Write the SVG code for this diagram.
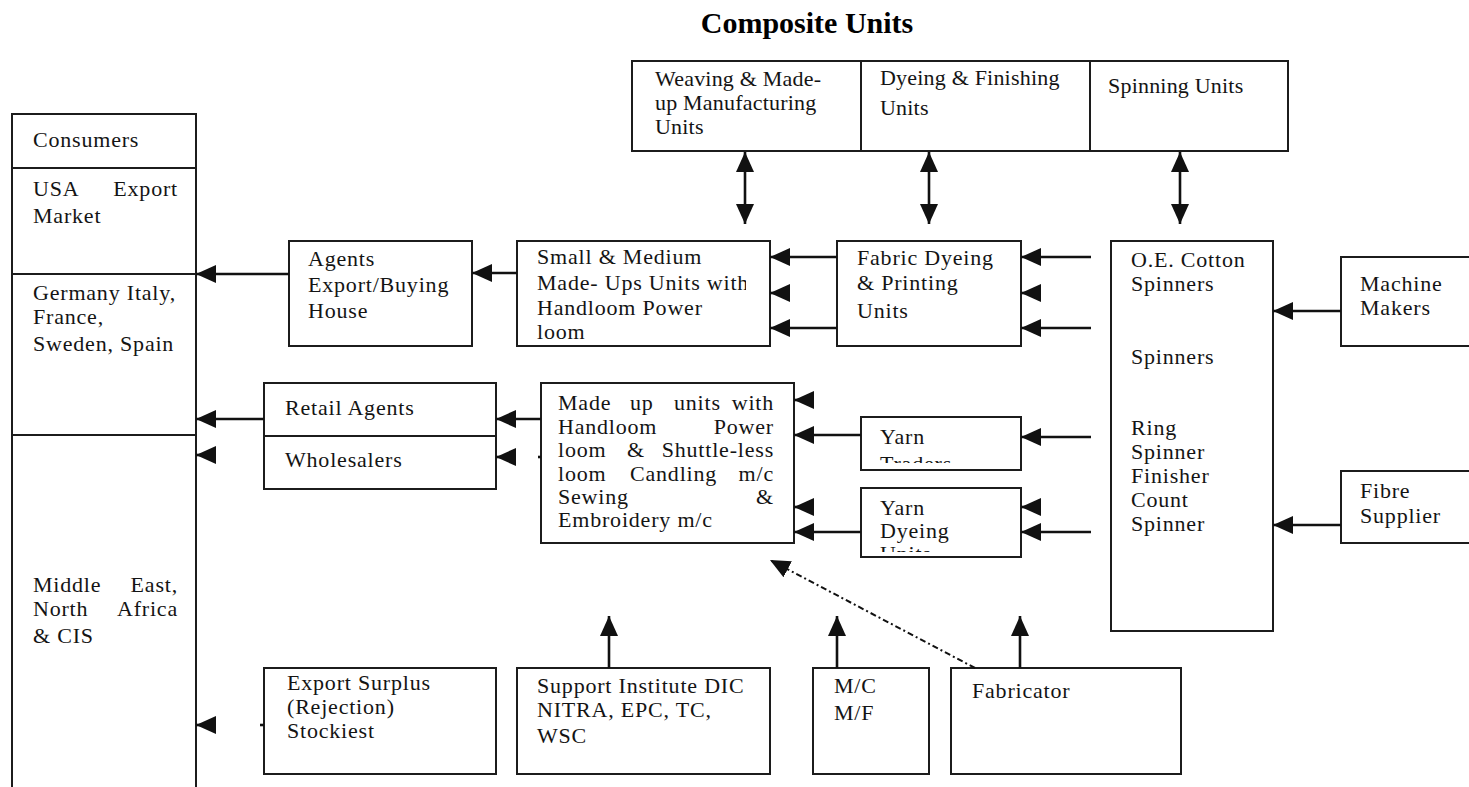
<svg xmlns="http://www.w3.org/2000/svg" width="1469" height="787" viewBox="0 0 1469 787">
<style>
.box{fill:#fff;stroke:#1c1c1c;stroke-width:2}
.edge{fill:none;stroke:#1c1c1c;stroke-width:2}
.t{font-family:'Liberation Serif','Times New Roman',serif;font-size:22px;fill:#141414;letter-spacing:0.8px}
.tt{letter-spacing:0.2px}
.title{font-family:'Liberation Serif','Times New Roman',serif;font-size:30px;font-weight:bold;fill:#000}
.c{stroke:#111;stroke-width:2.6;fill:none}
.hd{marker-end:url(#ah)}
.dbl{marker-start:url(#ah);marker-end:url(#ah)}
.dot{stroke:#111;stroke-width:2;fill:none;stroke-dasharray:6 3 2 3;marker-end:url(#ah)}
</style>
<defs>
  <marker id="ah" viewBox="0 0 20 18" refX="20" refY="9" markerWidth="20" markerHeight="18" markerUnits="userSpaceOnUse" orient="auto-start-reverse">
    <path d="M0,0 L20,9 L0,18 z" fill="#111"/>
  </marker>
  <clipPath id="clipSM"><rect x="517" y="241" width="229" height="105"/></clipPath>
  <clipPath id="clipYT"><rect x="861" y="417" width="160" height="46"/></clipPath>
  <clipPath id="clipYD"><rect x="861" y="488" width="160" height="64"/></clipPath>
</defs>
<rect width="1469" height="787" fill="#fff"/>

<text class="title" x="807" y="33" text-anchor="middle">Composite Units</text>

<!-- composite units: three cells in one band -->
<g id="composite-units">
  <rect class="box" x="632" y="61" width="656" height="90"/>
  <line class="edge" x1="861" y1="61" x2="861" y2="151"/>
  <line class="edge" x1="1090" y1="61" x2="1090" y2="151"/>
  <g id="weaving-units">
    <text class="t tt" x="655" y="86">Weaving &amp; Made-</text>
    <text class="t tt" x="655" y="110">up Manufacturing</text>
    <text class="t tt" x="655" y="134">Units</text>
  </g>
  <g id="dyeing-finishing-units">
    <text class="t tt" x="880" y="85">Dyeing &amp; Finishing</text>
    <text class="t tt" x="880" y="115">Units</text>
  </g>
  <g id="spinning-units">
    <text class="t tt" x="1108" y="93">Spinning Units</text>
  </g>
</g>

<!-- markets column, open at the bottom -->
<g id="consumers">
  <path class="edge" d="M12,787 V114 H196 V787"/>
  <line class="edge" x1="12" y1="168" x2="196" y2="168"/>
  <line class="edge" x1="12" y1="274" x2="196" y2="274"/>
  <line class="edge" x1="12" y1="435" x2="196" y2="435"/>
  <text class="t" x="33" y="147">Consumers</text>
  <text class="t" y="196"><tspan x="33">USA</tspan><tspan x="178" text-anchor="end">Export</tspan></text>
  <text class="t" x="33" y="223">Market</text>
  <text class="t" x="33" y="300">Germany Italy,</text>
  <text class="t" x="33" y="324">France,</text>
  <text class="t" x="33" y="351">Sweden, Spain</text>
  <text class="t" y="592"><tspan x="33">Middle</tspan><tspan x="178" text-anchor="end">East,</tspan></text>
  <text class="t" y="616"><tspan x="33">North</tspan><tspan x="178" text-anchor="end">Africa</tspan></text>
  <text class="t" x="33" y="643">&amp; CIS</text>
</g>

<g id="agents">
  <rect class="box" x="289" y="241" width="183" height="105"/>
  <text class="t" x="308" y="266">Agents</text>
  <text class="t" x="308" y="292">Export/Buying</text>
  <text class="t" x="308" y="318">House</text>
</g>

<g id="small-medium-units">
  <rect class="box" x="517" y="241" width="253" height="105"/>
  <g clip-path="url(#clipSM)">
    <text class="t" x="537" y="264">Small &amp; Medium</text>
    <text class="t" x="537" y="290">Made- Ups Units with</text>
    <text class="t" x="537" y="315">Handloom Power</text>
    <text class="t" x="537" y="339">loom</text>
  </g>
</g>

<g id="fabric-dyeing">
  <rect class="box" x="837" y="241" width="184" height="105"/>
  <text class="t" x="857" y="265">Fabric Dyeing</text>
  <text class="t" x="857" y="290">&amp; Printing</text>
  <text class="t" x="857" y="318">Units</text>
</g>

<g id="spinners">
  <rect class="box" x="1111" y="241" width="162" height="390"/>
  <text class="t" x="1131" y="267">O.E. Cotton</text>
  <text class="t" x="1131" y="291">Spinners</text>
  <text class="t" x="1131" y="364">Spinners</text>
  <text class="t" x="1131" y="435">Ring</text>
  <text class="t" x="1131" y="459">Spinner</text>
  <text class="t" x="1131" y="483">Finisher</text>
  <text class="t" x="1131" y="507">Count</text>
  <text class="t" x="1131" y="531">Spinner</text>
</g>

<g id="machine-makers">
  <rect class="box" x="1341" y="257" width="140" height="89"/>
  <text class="t" x="1360" y="291">Machine</text>
  <text class="t" x="1360" y="315">Makers</text>
</g>

<g id="fibre-supplier">
  <rect class="box" x="1341" y="471" width="140" height="72"/>
  <text class="t" x="1360" y="498">Fibre</text>
  <text class="t" x="1360" y="523">Supplier</text>
</g>

<g id="retail-wholesale">
  <rect class="box" x="264" y="383" width="232" height="106"/>
  <line class="edge" x1="264" y1="436" x2="496" y2="436"/>
  <text class="t" x="285" y="415">Retail Agents</text>
  <text class="t" x="285" y="467">Wholesalers</text>
</g>

<g id="made-up-units">
  <rect class="box" x="541" y="383" width="253" height="160"/>
  <text class="t" y="410"><tspan x="558">Made</tspan><tspan x="630">up</tspan><tspan x="674">units</tspan><tspan x="774" text-anchor="end">with</tspan></text>
  <text class="t" y="433.5"><tspan x="558">Handloom</tspan><tspan x="774" text-anchor="end">Power</tspan></text>
  <text class="t" y="457"><tspan x="558">loom</tspan><tspan x="627">&amp;</tspan><tspan x="774" text-anchor="end">Shuttle-less</tspan></text>
  <text class="t" y="480.5"><tspan x="558">loom</tspan><tspan x="630">Candling</tspan><tspan x="774" text-anchor="end">m/c</tspan></text>
  <text class="t" y="504"><tspan x="558">Sewing</tspan><tspan x="774" text-anchor="end">&amp;</tspan></text>
  <text class="t" x="558" y="527">Embroidery m/c</text>
</g>

<g id="yarn-traders">
  <rect class="box" x="861" y="417" width="160" height="53"/>
  <g clip-path="url(#clipYT)">
    <text class="t" x="880" y="444">Yarn</text>
    <text class="t" x="880" y="471">Traders</text>
  </g>
</g>

<g id="yarn-dyeing">
  <rect class="box" x="861" y="488" width="160" height="69"/>
  <g clip-path="url(#clipYD)">
    <text class="t" x="880" y="515">Yarn</text>
    <text class="t" x="880" y="538">Dyeing</text>
    <text class="t" x="880" y="561">Units</text>
  </g>
</g>

<g id="export-surplus">
  <rect class="box" x="264" y="668" width="232" height="106"/>
  <text class="t" x="287" y="690">Export Surplus</text>
  <text class="t" x="287" y="714">(Rejection)</text>
  <text class="t" x="287" y="738">Stockiest</text>
</g>

<g id="support-institute">
  <rect class="box" x="517" y="668" width="253" height="106"/>
  <text class="t" x="537" y="693">Support Institute DIC</text>
  <text class="t" x="537" y="717">NITRA, EPC, TC,</text>
  <text class="t" x="537" y="743">WSC</text>
</g>

<g id="mc-mf">
  <rect class="box" x="813" y="668" width="116" height="106"/>
  <text class="t" x="834" y="693">M/C</text>
  <text class="t" x="834" y="720">M/F</text>
</g>

<g id="fabricator">
  <rect class="box" x="951" y="668" width="230" height="106"/>
  <text class="t" x="972" y="698">Fabricator</text>
</g>

<g id="connectors">
  <!-- two-way links to the composite units -->
  <path class="c dbl" d="M745,152 V224"/>
  <path class="c dbl" d="M929,152 V224"/>
  <path class="c dbl" d="M1180,152 V224"/>
  <!-- into the markets column -->
  <path class="c hd" d="M289,274 H196"/>
  <path class="c hd" d="M264,419 H196"/>
  <path class="c hd" d="M216,455 H196"/>
  <path class="c hd" d="M216,725 H196"/>
  <path class="c" d="M264,725 H260"/>
  <!-- made-up units to trade -->
  <path class="c hd" d="M517,273 H472"/>
  <path class="c hd" d="M541,419 H496"/>
  <path class="c hd" d="M516,457 H496"/>
  <path class="c" d="M541,457 H538"/>
  <!-- fabric processing to small and medium units -->
  <path class="c hd" d="M837,257 H770"/>
  <path class="c hd" d="M790,293 H770"/>
  <path class="c hd" d="M837,328 H770"/>
  <!-- spinners to fabric and yarn units -->
  <path class="c hd" d="M1091,257 H1021"/>
  <path class="c hd" d="M1041,293 H1021"/>
  <path class="c hd" d="M1091,328 H1021"/>
  <path class="c hd" d="M1091,437 H1021"/>
  <path class="c hd" d="M1041,507 H1021"/>
  <path class="c hd" d="M1091,532 H1021"/>
  <!-- yarn units to made-up units -->
  <path class="c hd" d="M814,400 H794"/>
  <path class="c hd" d="M861,435 H794"/>
  <path class="c hd" d="M814,507 H794"/>
  <path class="c hd" d="M861,532 H794"/>
  <!-- suppliers to spinners -->
  <path class="c hd" d="M1341,311 H1273"/>
  <path class="c hd" d="M1341,525 H1273"/>
  <!-- support services upward -->
  <path class="c hd" d="M609,668 V616"/>
  <path class="c hd" d="M837,668 V616"/>
  <path class="c hd" d="M1020,668 V616"/>
  <path class="dot" d="M975,668 L770,560"/>
</g>
</svg>
